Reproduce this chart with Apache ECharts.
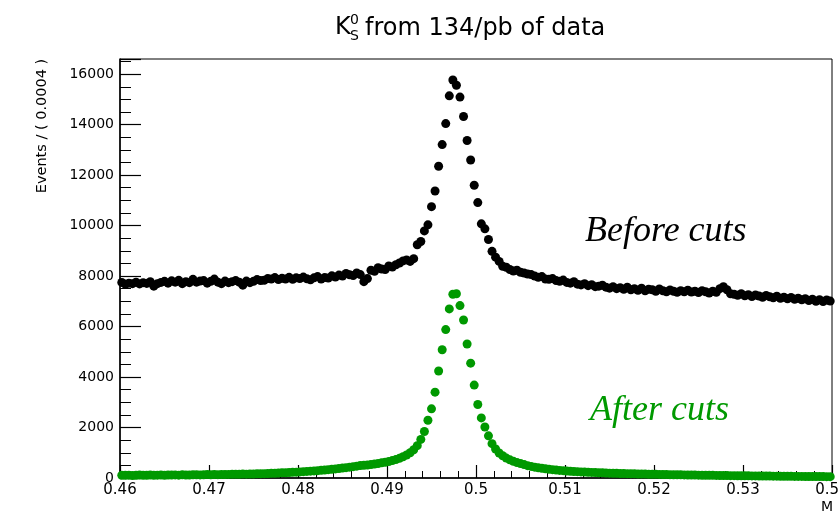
<!DOCTYPE html>
<html><head><meta charset="utf-8">
<script src="https://cdn.jsdelivr.net/npm/echarts@6/dist/echarts.min.js"></script>
<style>html,body{margin:0;padding:0;background:#fff}#c{width:840px;height:513px}</style>
</head><body><div id="c"></div>
<script>
// Binning: 200 bins of width 0.0004 from 0.46 to 0.54
const binLow = 0.46;
const binWidth = 0.0004;
const nBins = 200;
const massCenters = Array.from({length: nBins}, (_, i) => +(binLow + binWidth * (i + 0.5)).toFixed(5));

// Events per bin, before cuts (black)
const beforeCuts = [
  7750, 7680, 7720, 7700, 7760, 7690, 7740, 7710, 7780, 7600,
  7700, 7750, 7790, 7720, 7810, 7760, 7830, 7700, 7780, 7740,
  7870, 7760, 7800, 7820, 7720, 7790, 7880, 7760, 7700, 7800,
  7740, 7780, 7820, 7760, 7640, 7800, 7740, 7790, 7860, 7820,
  7830, 7900, 7880, 7940, 7860, 7910, 7880, 7950, 7870, 7930,
  7900, 7960, 7890, 7850, 7930, 7980, 7880, 7940, 7920, 8010,
  7960, 8040, 8000, 8100, 8050, 8020, 8120, 8060, 7780, 7900,
  8230, 8190, 8330, 8280, 8260, 8400, 8360, 8450, 8520, 8600,
  8640, 8580, 8690, 9240, 9370, 9790, 10030, 10750, 11370, 12350,
  13210, 14040, 15140, 15770, 15560, 15090, 14320, 13370, 12600, 11600,
  10910, 10070, 9870, 9450, 8980, 8750, 8580, 8390, 8350, 8260,
  8200, 8230, 8150, 8120, 8080, 8060, 8000, 7950, 7980, 7880,
  7870, 7900, 7820, 7790, 7840, 7750, 7720, 7780, 7680, 7650,
  7700, 7620, 7660, 7580, 7600, 7640, 7560, 7520, 7580, 7500,
  7540, 7480, 7560, 7460, 7500, 7440, 7520, 7420, 7480, 7460,
  7400, 7490, 7420, 7380, 7450, 7400, 7360, 7420, 7380, 7440,
  7370, 7400, 7350, 7420, 7380, 7330, 7400, 7360, 7500, 7580,
  7460, 7300, 7280, 7240, 7300, 7220, 7260, 7190, 7250, 7210,
  7160, 7230, 7180, 7140, 7200, 7120, 7160, 7100, 7150, 7080,
  7120, 7060, 7100, 7030, 7080, 7000, 7060, 6990, 7050, 7010
];

// Events per bin, after cuts (green)
const afterCuts = [
  110, 105, 112, 100, 108, 115, 104, 110, 118, 106,
  112, 120, 110, 118, 115, 122, 112, 125, 118, 120,
  125, 130, 122, 128, 135, 130, 138, 132, 140, 136,
  142, 148, 145, 150, 155, 152, 160, 158, 165, 170,
  172, 178, 185, 190, 198, 205, 210, 218, 225, 232,
  240, 250, 262, 270, 280, 292, 305, 315, 330, 345,
  360, 378, 392, 410, 430, 450, 470, 495, 505, 515,
  530, 550, 570, 600, 625, 655, 690, 730, 780, 840,
  910, 1000, 1120, 1280, 1530, 1840, 2290, 2740, 3400, 4240,
  5080, 5880, 6700, 7280, 7300, 6830, 6260, 5310, 4550, 3680,
  2910, 2380, 2020, 1670, 1360, 1150, 990, 880, 790, 720,
  660, 610, 570, 530, 490, 460, 430, 405, 385, 365,
  345, 330, 315, 300, 290, 278, 268, 258, 250, 242,
  235, 228, 222, 215, 210, 204, 198, 193, 188, 184,
  180, 176, 172, 168, 165, 160, 157, 154, 150, 148,
  145, 142, 138, 136, 133, 130, 128, 126, 123, 120,
  118, 115, 113, 110, 108, 106, 104, 102, 100, 98,
  96, 94, 92, 90, 88, 86, 85, 83, 82, 80,
  78, 76, 75, 73, 72, 70, 68, 67, 66, 64,
  63, 62, 61, 60, 58, 57, 56, 55, 54, 53
];

const xMin = 0.46, xMax = 0.54, xStep = 0.01;
const yMin = 0, yMax = 16600, yStep = 2000;

const chart = echarts.init(document.getElementById('c'), null, {renderer: 'canvas'});
chart.setOption({
  animation: false,
  backgroundColor: '#ffffff',
  grid: {left: 120, right: 8, top: 59, bottom: 35, containLabel: false, outerBoundsMode: 'none',
         show: true, borderColor: '#000', borderWidth: 1, backgroundColor: 'transparent'},
  xAxis: {
    type: 'value', min: xMin, max: xMax, interval: xStep,
    axisLine: {onZero: false, lineStyle: {color: '#000', width: 1.5}},
    axisTick: {inside: true, length: 13, lineStyle: {color: '#000', width: 1.2}},
    minorTick: {show: true, splitNumber: 5, length: 7, lineStyle: {color: '#000', width: 1}},
    splitLine: {show: false},
    axisLabel: {color: '#000', fontFamily: 'DejaVu Sans', fontSize: 15, margin: 5, hideOverlap: false,
      formatter: v => Math.abs(v * 100 - Math.round(v * 100)) < 1e-6 ? String(+v.toFixed(2)) : ''}
  },
  yAxis: {
    type: 'value', min: yMin, max: yMax, interval: yStep,
    axisLine: {onZero: false, lineStyle: {color: '#000', width: 1.5}},
    axisTick: {inside: true, length: 21, lineStyle: {color: '#000', width: 1.2}},
    minorTick: {show: true, splitNumber: 4, length: 11, lineStyle: {color: '#000', width: 1}},
    splitLine: {show: false},
    axisLabel: {color: '#000', fontFamily: 'DejaVu Sans', fontSize: 14, margin: 6,
      formatter: v => (v % yStep === 0 ? String(v) : '')}
  },
  series: [
    {type: 'scatter', name: 'Before cuts', clip: false, symbol: 'circle', symbolSize: 9,
     itemStyle: {color: '#000000', opacity: 1}, data: massCenters.map((x, i) => [x, beforeCuts[i]])},
    {type: 'scatter', name: 'After cuts', clip: false, symbol: 'circle', symbolSize: 9,
     itemStyle: {color: '#009900', opacity: 1}, data: massCenters.map((x, i) => [x, afterCuts[i]])}
  ],
  graphic: [
    {type: 'text', x: 335, y: 28, style: {text: 'K', font: '24px "DejaVu Sans"', fill: '#000', verticalAlign: 'middle'}},
    {type: 'text', x: 350, y: 36, style: {text: 'S', font: '14px "DejaVu Sans"', fill: '#000', verticalAlign: 'middle'}},
    {type: 'text', x: 350, y: 20, style: {text: '0', font: '14px "DejaVu Sans"', fill: '#000', verticalAlign: 'middle'}},
    {type: 'text', x: 365, y: 29, style: {text: 'from 134/pb of data', font: '24px "DejaVu Sans"', fill: '#000', verticalAlign: 'middle'}},
    {type: 'text', x: 42, y: 126, rotation: Math.PI / 2, style: {text: 'Events / ( 0.0004 )', font: '14.5px "DejaVu Sans"', fill: '#000', align: 'center', verticalAlign: 'middle'}},
    {type: 'text', x: 833, y: 507, style: {text: 'M', font: '14px "DejaVu Sans"', fill: '#000', align: 'right', verticalAlign: 'middle'}},
    {type: 'text', x: 585, y: 232, style: {text: 'Before cuts', font: 'italic 36px "Liberation Serif"', fill: '#000', verticalAlign: 'middle'}},
    {type: 'text', x: 590, y: 411, style: {text: 'After cuts', font: 'italic 36px "Liberation Serif"', fill: '#009900', verticalAlign: 'middle'}}
  ]
});
</script>
</body></html>
